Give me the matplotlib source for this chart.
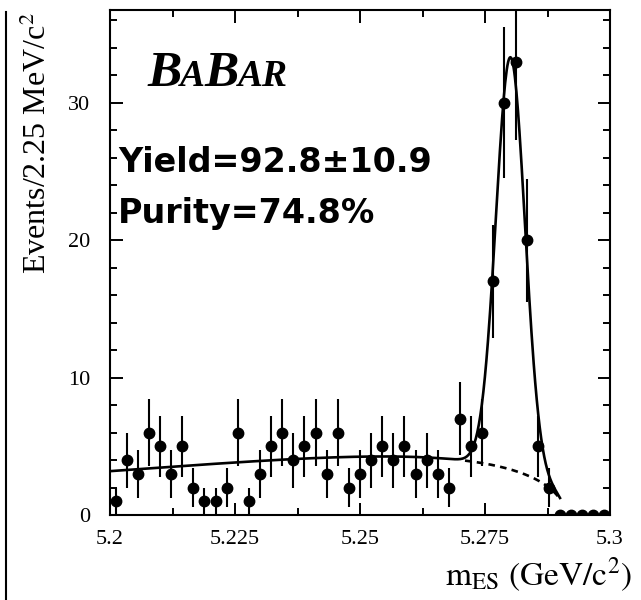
import matplotlib
matplotlib.use('Agg')
import matplotlib.pyplot as plt
import numpy as np
from matplotlib.lines import Line2D
from matplotlib.ticker import MultipleLocator

plt.rcParams['font.family'] = ['Liberation Serif', 'DejaVu Serif']
plt.rcParams['mathtext.fontset'] = 'stix'

# m_ES histogram, 45 bins between 5.2 and 5.3 GeV/c^2
m_lo, m_hi, n_bins = 5.2, 5.3, 45
counts = [1, 4, 3, 6, 5, 3, 5, 2, 1, 1, 2, 6, 1, 3, 5, 6, 4, 5, 6, 3,
          6, 2, 3, 4, 5, 4, 5, 3, 4, 3, 2, 7, 5, 6, 17, 30, 33, 20, 5, 2,
          0, 0, 0, 0, 0]

# fit parameters (ARGUS background + gaussian signal)
argus_m0 = 5.291
argus_c = -36.0
bkg_ref_m, bkg_ref_val = 5.27, 4.0
sig_mean = 5.2801
sig_sigma = 0.0029
sig_peak = 30.0
fit_end = 5.290
dash_start = 5.271

yield_text = 'Yield=92.8\u00b110.9'
purity_text = 'Purity=74.8%'

W, H = 641, 600
fig = plt.figure(figsize=(W / 100, H / 100), dpi=100)
ax = fig.add_axes([110 / W, 1 - 515 / H, 500 / W, 505 / H])

edges = np.linspace(m_lo, m_hi, n_bins + 1)
centers = 0.5 * (edges[:-1] + edges[1:])
counts = np.array(counts, dtype=float)
errs = np.sqrt(counts)


def argus(m):
    x = 1 - (m / argus_m0) ** 2
    x = np.clip(x, 0, None)
    return m * np.sqrt(x) * np.exp(argus_c * x)


def bkg(m):
    return bkg_ref_val * argus(m) / argus(bkg_ref_m)


def total(m):
    return bkg(m) + sig_peak * np.exp(-0.5 * ((m - sig_mean) / sig_sigma) ** 2)


m = np.linspace(m_lo, fit_end, 600)
ax.plot(m, total(m), color='black', lw=1.9, zorder=2)
md = np.linspace(dash_start, fit_end, 200)
ax.plot(md, bkg(md), color='black', lw=1.9, ls=(0, (2.5, 2)), zorder=2)

ax.errorbar(centers, counts, yerr=np.where(counts > 0, errs, 0), fmt='o',
            ms=7.5, color='black', ecolor='black', elinewidth=1.5, capsize=0,
            zorder=3)

ax.set_xlim(m_lo, m_hi)
ax.set_ylim(0, 36.75)
ax.xaxis.set_minor_locator(MultipleLocator(0.0125))
ax.yaxis.set_major_locator(MultipleLocator(10))
ax.yaxis.set_minor_locator(MultipleLocator(2))
ax.set_xticks([5.2, 5.225, 5.25, 5.275, 5.3])
ax.set_xticklabels(['5.2', '5.225', '5.25', '5.275', '5.3'])
ax.tick_params(which='both', direction='in', top=True, right=True,
               width=1.4, labelsize=16)
ax.tick_params(which='major', length=9)
ax.tick_params(which='minor', length=5)
ax.tick_params(axis='y', pad=14)
ax.tick_params(axis='x', pad=11)
for s in ax.spines.values():
    s.set_linewidth(1.5)

# axis titles
fig.text(38 / W, 1 - 12 / H, 'Events/2.25 MeV/c$^2$', rotation=90,
         ha='center', va='top', fontsize=23)
fig.text(632 / W, 1 - 586 / H, r'$\mathrm{m_{ES}\ (GeV/c^2)}$',
         ha='right', va='baseline', fontsize=24)

# BaBar logo in small caps
fig.canvas.draw()
r = fig.canvas.get_renderer()
x = 147
base = 1 - 86 / H
for part, size in [('B', 37), ('A', 27), ('B', 37), ('AR', 27)]:
    t = fig.text(x / W, base, part, fontsize=size, fontweight='bold',
                 fontstyle='italic', va='baseline', ha='left')
    x = t.get_window_extent(r).x1 - 1

fig.text(118 / W, 1 - 172 / H, yield_text, family=['DejaVu Sans'],
         fontweight='bold', fontsize=24, va='baseline')
fig.text(118 / W, 1 - 223 / H, purity_text, family=['DejaVu Sans'],
         fontweight='bold', fontsize=24, va='baseline')

# black frame edge at the left of the picture
fig.add_artist(Line2D([6 / W, 6 / W], [0, 1 - 12 / H], color='black', lw=1.5))

fig.savefig('out.png', dpi=100)
